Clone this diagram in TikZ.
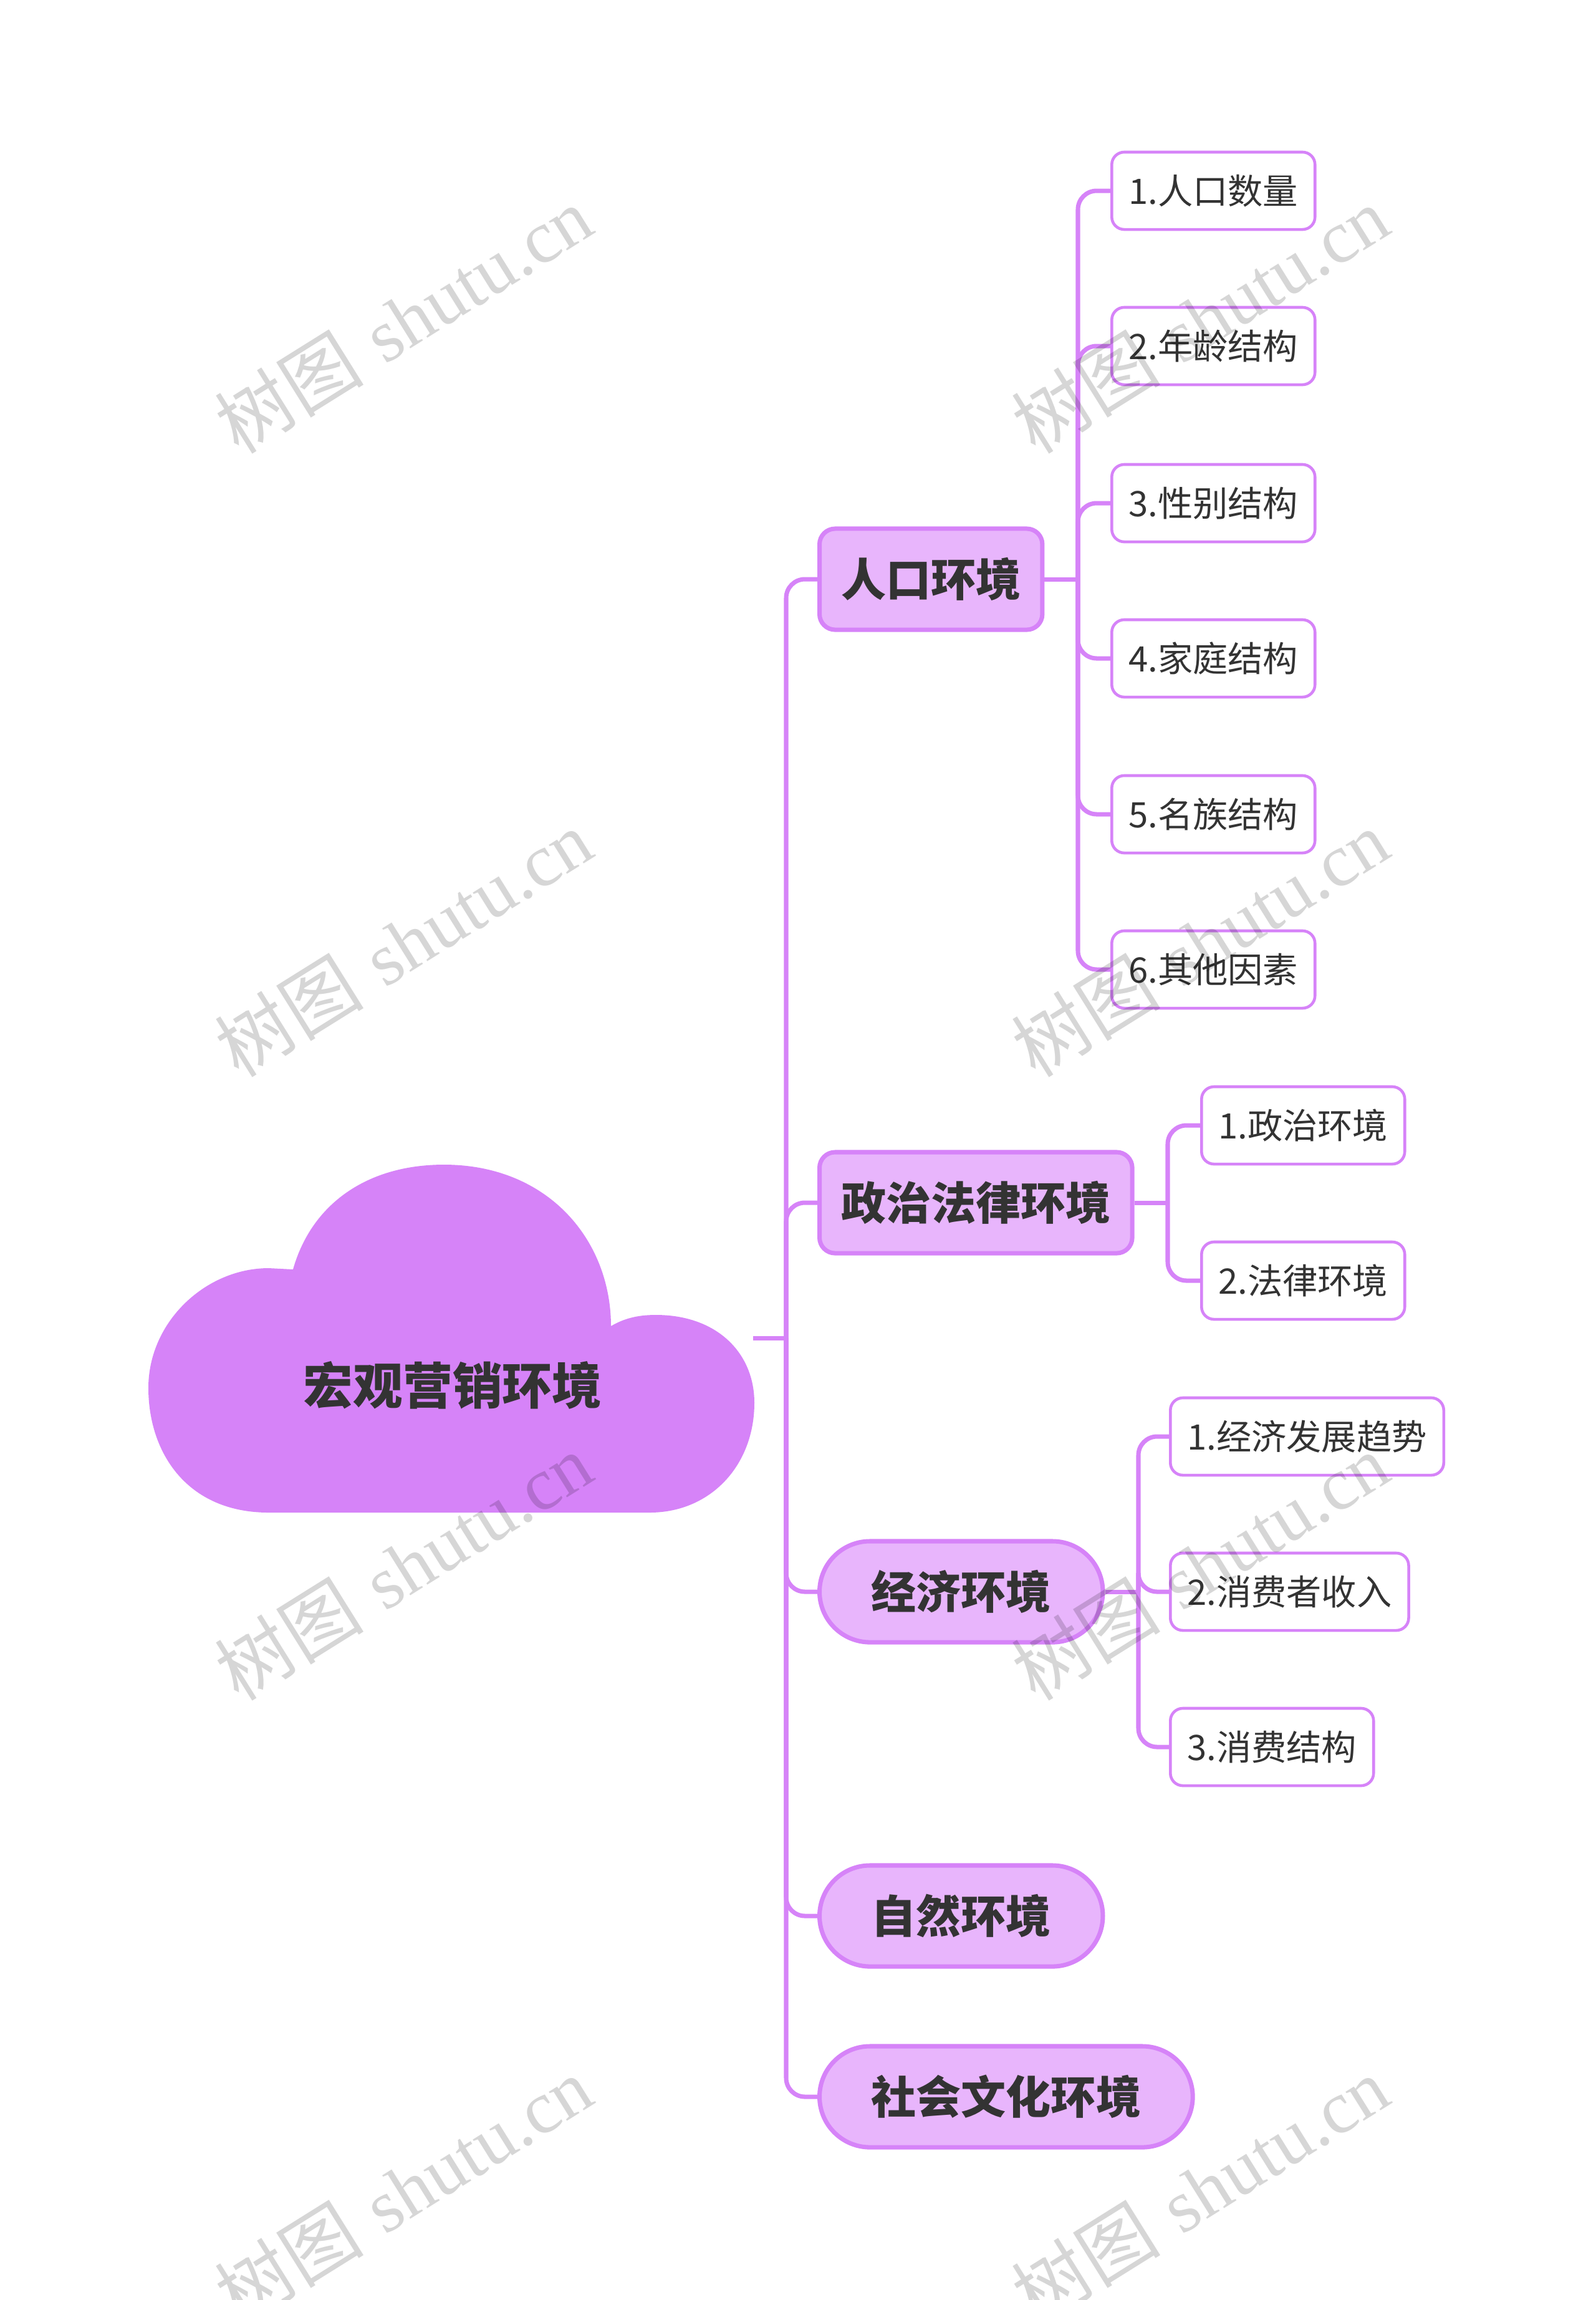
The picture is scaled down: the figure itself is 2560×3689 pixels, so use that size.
\documentclass[tikz,border=0pt]{standalone}
\usepackage{fontspec}
\newfontfamily\cjk{Noto Sans CJK SC}
\newfontfamily\wmfont{Liberation Serif}
\definecolor{cloudpink}{HTML}{D683F8}
\definecolor{branchfill}{HTML}{E8B5FC}
\definecolor{inkgray}{HTML}{333333}

\begin{document}
\begin{tikzpicture}[x=0.01cm, y=-0.01cm,
    link/.style={draw=cloudpink, line width=2pt},
    branchbox/.style={rectangle, rounded corners=0.25cm, draw=cloudpink, fill=branchfill, line width=2pt,
        minimum height=1.62cm, inner xsep=0.345cm, anchor=west, text=inkgray,
        font=\cjk\bfseries\fontsize{20.5}{24}\selectfont},
    branchpill/.style={branchbox, rounded corners=0.81cm, inner xsep=0.83cm},
    leafbox/.style={rectangle, rounded corners=0.2cm, draw=cloudpink, fill=white, line width=1.3pt,
        minimum height=1.24cm, inner xsep=0.27cm, anchor=west, text=inkgray,
        font=\cjk\fontsize{16}{19}\selectfont},
    wmtext/.style={rotate=32, text=black, opacity=0.16, font=\fontsize{34}{38}\selectfont}]

    \useasboundingbox (0,0) rectangle (2560,3689);
    \clip (0,0) rectangle (2560,3689);
    \fill[white] (0,0) rectangle (2560,3689);

    % cloud
    \fill[cloudpink] (431,2426) .. controls (300,2426) and (238,2330) .. (238,2226)
        .. controls (238,2120) and (330,2034) .. (431,2034) -- (470,2036)
        .. controls (500,1930) and (590,1868) .. (712,1868)
        .. controls (880,1868) and (980,1990) .. (980,2127)
        .. controls (1005,2112) and (1030,2109) .. (1052,2109)
        .. controls (1150,2109) and (1210,2170) .. (1210,2250)
        .. controls (1210,2350) and (1140,2426) .. (1042,2426) -- cycle;
    \node (root) at (726,2222) [text=inkgray, font=\cjk\bfseries\fontsize{22.7}{27}\selectfont] {宏观营销环境};

    % branches
    \node (pop) at (1311,929) [branchbox] {人口环境};
    \node (pol) at (1311,1929) [branchbox] {政治法律环境};
    \node (eco) at (1311,2553) [branchpill] {经济环境};
    \node (nat) at (1311,3073) [branchpill] {自然环境};
    \node (soc) at (1311,3363) [branchpill] {社会文化环境};

    % leaves
    \node (pop1) at (1781,306) [leafbox] {1.人口数量};
    \node (pop2) at (1781,555) [leafbox] {2.年龄结构};
    \node (pop3) at (1781,807) [leafbox] {3.性别结构};
    \node (pop4) at (1781,1056) [leafbox] {4.家庭结构};
    \node (pop5) at (1781,1306) [leafbox] {5.名族结构};
    \node (pop6) at (1781,1555) [leafbox] {6.其他因素};

    \node (pol1) at (1925,1805) [leafbox] {1.政治环境};
    \node (pol2) at (1925,2054) [leafbox] {2.法律环境};

    \node (eco1) at (1875,2304) [leafbox] {1.经济发展趋势};
    \node (eco2) at (1875,2553) [leafbox] {2.消费者收入};
    \node (eco3) at (1875,2802) [leafbox] {3.消费结构};

    % connectors
    \coordinate (rootout) at (1208,2146);
    \coordinate (hub) at (1261,2146);
    \draw[link] (rootout) -- (hub);
    \foreach \b in {pop,pol,eco,nat,soc}
        \draw[link, rounded corners=0.3cm] (hub) |- (\b.west);

    \coordinate (popj) at (1729,929);
    \coordinate (polj) at (1873,1929);
    \coordinate (ecoj) at (1826,2553);
    \draw[link] (pop.east) -- (popj);
    \draw[link] (pol.east) -- (polj);
    \draw[link] (eco.east) -- (ecoj);
    \foreach \i in {1,...,6}
        \draw[link, rounded corners=0.3cm] (popj) |- (pop\i.west);
    \foreach \i in {1,2}
        \draw[link, rounded corners=0.3cm] (polj) |- (pol\i.west);
    \foreach \i in {1,2,3}
        \draw[link, rounded corners=0.3cm] (ecoj) |- (eco\i.west);

    % watermark
    \foreach \y in {513,1513,2513,3513} {
        \node (wml\y) at (647,\y) [wmtext] {{\cjk 树图} {\wmfont shutu.cn}};
        \node (wmr\y) at (1925,\y) [wmtext] {{\cjk 树图} {\wmfont shutu.cn}};
    }
\end{tikzpicture}
\end{document}
